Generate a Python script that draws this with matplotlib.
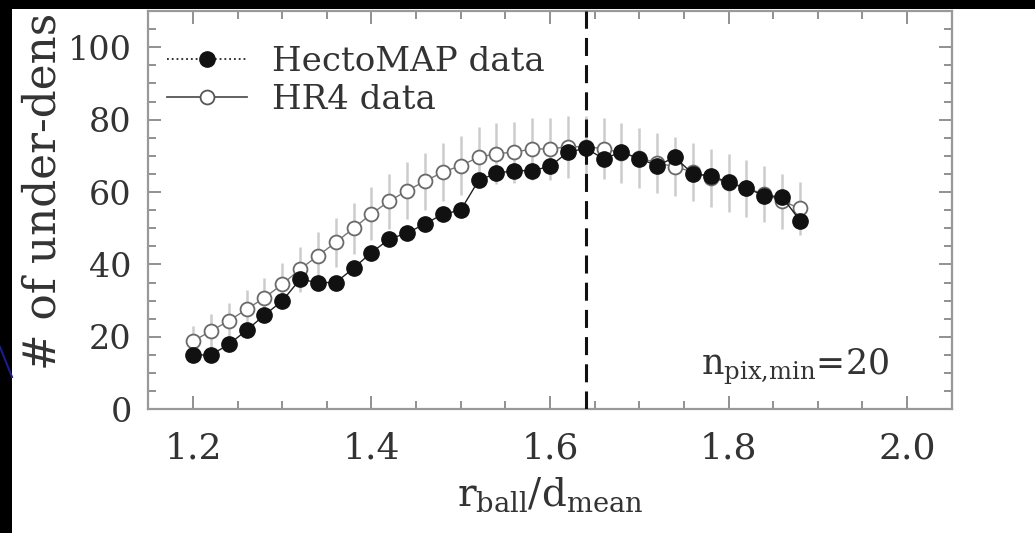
import matplotlib
matplotlib.use('Agg')
import matplotlib.pyplot as plt
from matplotlib.lines import Line2D
from matplotlib.patches import Rectangle
from matplotlib.ticker import MultipleLocator

plt.rcParams['font.family'] = 'DejaVu Serif'
plt.rcParams['mathtext.fontset'] = 'dejavuserif'

# r_ball / d_mean sampling
r_ball = [1.20, 1.22, 1.24, 1.26, 1.28, 1.30, 1.32, 1.34, 1.36, 1.38,
          1.40, 1.42, 1.44, 1.46, 1.48, 1.50, 1.52, 1.54, 1.56, 1.58,
          1.60, 1.62, 1.64, 1.66, 1.68, 1.70, 1.72, 1.74, 1.76, 1.78,
          1.80, 1.82, 1.84, 1.86, 1.88]

# number of under-dense regions
hecto_counts = [15.0, 15.0, 17.9, 21.8, 26.0, 29.9, 35.9, 35.0, 35.0, 39.0,
                43.3, 47.0, 48.7, 51.2, 53.9, 55.0, 63.2, 65.2, 65.9, 65.9,
                67.1, 71.0, 72.1, 69.2, 71.0, 69.2, 67.3, 69.6, 65.0, 64.5,
                62.7, 61.1, 59.0, 58.7, 52.1]
hr4_counts = [18.8, 21.6, 24.4, 27.6, 30.8, 34.5, 38.7, 42.4, 46.1, 50.0,
              54.0, 57.5, 60.4, 63.0, 65.5, 67.3, 69.6, 70.6, 71.0, 71.9,
              71.9, 72.5, 72.5, 72.0, 70.8, 69.5, 68.0, 67.0, 65.5, 64.0,
              62.5, 61.0, 59.5, 57.5, 55.5]
hr4_err = [4.3, 4.6, 4.9, 5.3, 5.5, 5.9, 6.2, 6.5, 6.8, 7.1,
           7.3, 7.6, 7.8, 7.9, 8.1, 8.2, 8.3, 8.4, 8.4, 8.5,
           8.5, 8.5, 8.5, 8.5, 8.4, 8.3, 8.2, 8.2, 8.1, 8.0,
           7.9, 7.8, 7.7, 7.6, 7.4]

r_peak = 1.64
xticks = [1.2, 1.4, 1.6, 1.8, 2.0]
yticks = [0, 20, 40, 60, 80, 100]

txt = '#333333'
axcol = '#999999'

fig = plt.figure(figsize=(10.35, 5.33), dpi=100, facecolor='white')
ax = fig.add_axes([0.1433, 0.2321, 0.7762, 0.7473])

# HR4 with error bars
ax.errorbar(r_ball, hr4_counts, yerr=hr4_err, fmt='none', ecolor='#cccccc',
            elinewidth=1.8, capsize=0, zorder=1)
ax.plot(r_ball, hr4_counts, '-', color='#777777', lw=1.0, marker='o', ms=10,
        mfc='white', mec='#6a6a6a', mew=1.3, zorder=2)
# HectoMAP
ax.plot(r_ball, hecto_counts, '-', color='#222222', lw=1.0, marker='o', ms=11,
        mfc='#111111', mec='#111111', zorder=3)

ax.axvline(r_peak, color='#111111', lw=2.2, ls=(0, (5.9, 3.0)), zorder=4)

ax.set_xlim(1.15, 2.05)
ax.set_ylim(0, 110)
ax.set_xticks(xticks)
ax.set_xticklabels(['%.1f' % t for t in xticks])
ax.set_yticks(yticks)
ax.xaxis.set_minor_locator(MultipleLocator(0.05))
ax.yaxis.set_minor_locator(MultipleLocator(5))
ax.tick_params(which='both', direction='in', top=True, right=True,
               color='#888888', width=1.3)
ax.tick_params(which='major', length=9.5)
ax.tick_params(which='minor', length=5.5)
ax.tick_params(axis='x', labelsize=26, labelcolor=txt, pad=16)
ax.tick_params(axis='y', labelsize=24, labelcolor=txt, pad=12)
for s in ax.spines.values():
    s.set_color(axcol)
    s.set_linewidth(1.6)

ax.set_xlabel(r'$\mathrm{r}_{\mathrm{ball}}/\mathrm{d}_{\mathrm{mean}}$',
              fontsize=28, color=txt, labelpad=7)

ax.text(1.98, 9.7, r'n$_{\mathrm{pix{,}min}}$=20', fontsize=25, color=txt,
        ha='right', va='baseline')

# y label, cut off at the top in the source picture
fig.text(0.041, 0.305, '# of under-dens', rotation=90, fontsize=31.5,
         color=txt, ha='center', va='bottom')

handles = [Line2D([], [], color='#222222', ls=':', lw=1.3, marker='o', ms=11,
                  mfc='#111111', mec='#111111'),
           Line2D([], [], color='#555555', ls='-', lw=1.3, marker='o', ms=10,
                  mfc='white', mec='#555555', mew=1.3)]
ax.legend(handles, ['HectoMAP data', 'HR4 data'], loc='upper left',
          bbox_to_anchor=(0.023, 0.912), frameon=False, fontsize=24.5,
          handlelength=2.35, handletextpad=0.75, labelspacing=0.17,
          borderpad=0, borderaxespad=0, labelcolor=txt)

# dark slide border
fig.add_artist(Rectangle((0, 1 - 9 / 533), 1, 9 / 533, transform=fig.transFigure,
                         facecolor='black', edgecolor='none', zorder=10))
fig.add_artist(Rectangle((0, 0), 12 / 1035, 1, transform=fig.transFigure,
                         facecolor='black', edgecolor='none', zorder=10))
fig.add_artist(Line2D([0, 12 / 1035], [1 - 347 / 533, 1 - 377 / 533],
                      transform=fig.transFigure, color='#1c1c8c', lw=1.5,
                      zorder=11))

fig.savefig('out.png', dpi=100, facecolor='white')
